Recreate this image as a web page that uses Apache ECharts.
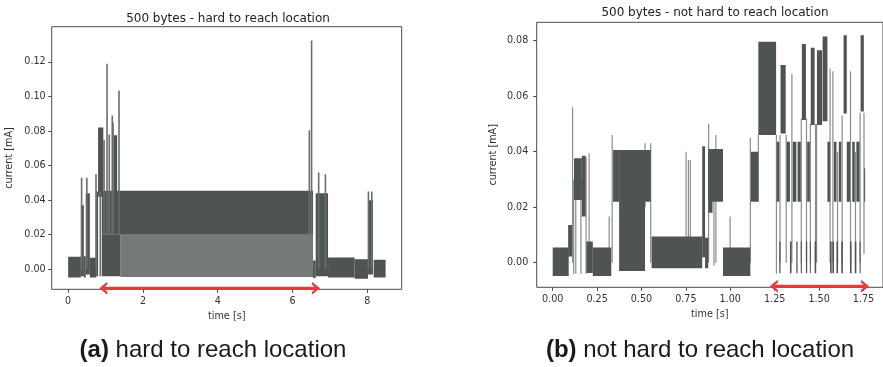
<!DOCTYPE html>
<html><head><meta charset="utf-8">
<script src="https://cdn.jsdelivr.net/npm/echarts@6/dist/echarts.min.js"></script>
<style>html,body{margin:0;padding:0;background:#fff}#c{width:883px;height:367px}</style>
</head><body><div id="c"></div>
<script>
// ---------- text ----------
const leftTitle = '500 bytes - hard to reach location';
const rightTitle = '500 bytes - not hard to reach location';
const xName = 'time [s]';
const yName = 'current [mA]';
const leftCaptionTag = '(a)';
const leftCaption = 'hard to reach location';
const rightCaptionTag = '(b)';
const rightCaption = 'not hard to reach location';

// ---------- ticks ----------
const leftXTicks = [0, 2, 4, 6, 8];
const leftYTicks = [0, 0.02, 0.04, 0.06, 0.08, 0.10, 0.12];
const rightXTicks = [0, 0.25, 0.5, 0.75, 1.0, 1.25, 1.5, 1.75];
const rightYTicks = [0, 0.02, 0.04, 0.06, 0.08];

// ---------- data: dense blocks [tStart, tEnd, low, high] ----------
const leftBlocks = [
  [0.00, 0.34, -0.0048, 0.0073],
  [0.34, 0.42, -0.0040, 0.0370],
  [0.42, 0.47, -0.0048, 0.0075],
  [0.47, 0.58, -0.0030, 0.0440],
  [0.58, 0.75, -0.0048, 0.0066],
  [0.75, 0.80, -0.0040, 0.0450],
  [0.80, 0.94, 0.0420, 0.0820],
  [0.90, 6.55, 0.0200, 0.0455],
  [0.90, 1.40, -0.0040, 0.0200],
  [1.22, 1.31, 0.0450, 0.0775],
  [6.55, 6.62, -0.0050, 0.0050],
  [6.62, 6.95, -0.0040, 0.0440],
  [6.95, 7.66, -0.0048, 0.0068],
  [7.66, 8.02, -0.0055, 0.0058],
  [8.02, 8.15, -0.0030, 0.0400],
  [8.17, 8.49, -0.0048, 0.0055]
];
// lighter sparse region under the main band
const leftLightBlocks = [
  [1.40, 6.55, -0.0045, 0.0200]
];
// thin spikes [t, low, high]
const leftSpikes = [
  [0.36, 0.000, 0.053], [0.50, 0.000, 0.053], [0.745, 0.000, 0.055],
  [0.86, -0.004, 0.045], [0.96, 0.020, 0.075], [1.04, 0.020, 0.119],
  [1.10, 0.020, 0.078], [1.18, 0.020, 0.089], [1.20, 0.020, 0.085],
  [1.36, 0.020, 0.1035], [6.45, 0.020, 0.0805], [6.51, 0.020, 0.1324],
  [6.70, 0.000, 0.056], [6.88, 0.000, 0.055], [8.03, 0.000, 0.045],
  [8.12, 0.000, 0.045]
];

const rightBlocks = [
  [0.000, 0.090, -0.0048, 0.0055],
  [0.087, 0.109, 0.0022, 0.0136],
  [0.120, 0.164, 0.0226, 0.0376],
  [0.164, 0.186, 0.0166, 0.0385],
  [0.190, 0.226, -0.0037, 0.0076],
  [0.226, 0.330, -0.0048, 0.0055],
  [0.340, 0.374, 0.0220, 0.0406],
  [0.374, 0.520, -0.0030, 0.0406],
  [0.520, 0.552, 0.0220, 0.0406],
  [0.557, 0.842, -0.0020, 0.0094],
  [0.842, 0.858, 0.0020, 0.0420],
  [0.858, 0.876, -0.0020, 0.0090],
  [0.876, 0.959, 0.0220, 0.0410],
  [0.876, 0.900, 0.0180, 0.0400],
  [0.959, 1.113, -0.0048, 0.0055],
  [1.116, 1.158, 0.0220, 0.0400],
  [1.158, 1.258, 0.0460, 0.0796],
  // high level pulses
  [1.283, 1.312, 0.0466, 0.0712],
  [1.403, 1.426, 0.0514, 0.0788],
  [1.453, 1.475, 0.0496, 0.0775],
  [1.488, 1.517, 0.0496, 0.0766],
  [1.520, 1.547, 0.0510, 0.0815],
  [1.638, 1.656, 0.0538, 0.0820],
  [1.734, 1.752, 0.0545, 0.0820],
  // mid level pulses
  [1.262, 1.276, 0.0220, 0.0436],
  [1.3175, 1.336, 0.0220, 0.0436],
  [1.352, 1.372, 0.0220, 0.0436],
  [1.379, 1.397, 0.0220, 0.0436],
  [1.433, 1.448, 0.0220, 0.0436],
  [1.547, 1.562, 0.0220, 0.0436],
  [1.584, 1.598, 0.0220, 0.0436],
  [1.611, 1.625, 0.0220, 0.0436],
  [1.656, 1.674, 0.0220, 0.0436],
  [1.687, 1.701, 0.0220, 0.0436],
  [1.710, 1.728, 0.0220, 0.0436],
  [1.754, 1.759, 0.0220, 0.0340],
  // low dips
  [1.276, 1.283, -0.0038, 0.0076],
  [1.336, 1.345, -0.0038, 0.0076],
  [1.372, 1.379, -0.0038, 0.0076],
  [1.397, 1.403, -0.0038, 0.0076],
  [1.426, 1.433, -0.0038, 0.0076],
  [1.448, 1.453, -0.0038, 0.0076],
  [1.475, 1.484, -0.0038, 0.0076],
  [1.562, 1.571, -0.0038, 0.0076],
  [1.575, 1.584, -0.0038, 0.0076],
  [1.598, 1.607, -0.0038, 0.0076],
  [1.625, 1.634, -0.0038, 0.0076],
  [1.674, 1.683, -0.0038, 0.0076],
  [1.701, 1.710, -0.0038, 0.0076],
  [1.728, 1.734, -0.0038, 0.0076]
];
const rightSpikes = [
  [0.112, 0.000, 0.056], [0.118, -0.004, 0.030], [0.130, -0.004, 0.030],
  [0.159, -0.004, 0.030], [0.188, -0.004, 0.038], [0.205, 0.000, 0.0394],
  [0.318, 0.000, 0.0166], [0.335, 0.000, 0.046], [0.520, 0.020, 0.043],
  [0.552, 0.000, 0.043], [0.751, 0.000, 0.040], [0.764, 0.000, 0.037],
  [0.775, 0.000, 0.037], [0.878, 0.000, 0.050], [0.908, -0.001, 0.030],
  [0.919, 0.000, 0.046], [0.999, 0.000, 0.0166], [1.113, 0.000, 0.045],
  [1.158, 0.022, 0.046], [1.260, -0.004, 0.046], [1.280, 0.000, 0.046],
  [1.315, 0.000, 0.046], [1.347, 0.000, 0.068], [1.400, 0.000, 0.052],
  [1.429, 0.000, 0.052], [1.451, 0.000, 0.050], [1.480, 0.000, 0.050],
  [1.486, 0.000, 0.050], [1.562, 0.000, 0.070], [1.578, 0.000, 0.069],
  [1.604, 0.000, 0.040], [1.630, 0.000, 0.053], [1.677, 0.000, 0.069],
  [1.705, 0.000, 0.040], [1.731, 0.000, 0.054], [1.753, 0.003, 0.054]
];

// red double arrows: [tStart, tEnd] at current level
const leftArrowT = [0.94, 6.63];
const leftArrowY = -0.0110;
const rightArrowT = [1.245, 1.759];
const rightArrowY = -0.0085;

// ---------- chart ----------
const DARK = '#4f5353';
const LIGHT = '#767979';
const SPIKE = '#6a6d6d';
const RED = '#e53a3a';
const AXIS = '#4a4a4a';
const TXT = '#333';
const FONT = 'DejaVu Sans';

function blockItem(color) {
  return function (params, api) {
    const p0 = api.coord([api.value(0), api.value(3)]);
    const p1 = api.coord([api.value(1), api.value(2)]);
    return {
      type: 'rect',
      shape: { x: p0[0], y: p0[1], width: Math.max(p1[0] - p0[0], 1), height: p1[1] - p0[1] },
      style: { fill: color }
    };
  };
}
function spikeItem(color, w) {
  return function (params, api) {
    const a = api.coord([api.value(0), api.value(1)]);
    const b = api.coord([api.value(0), api.value(2)]);
    return {
      type: 'line',
      shape: { x1: a[0], y1: a[1], x2: b[0], y2: b[1] },
      style: { stroke: color, lineWidth: w }
    };
  };
}
function customSeries(idx, data, item, encode) {
  return { type: 'custom', xAxisIndex: idx, yAxisIndex: idx, data: data, renderItem: item,
    encode: encode, silent: true, animation: false, clip: true };
}
const CHEVRON = 'path://M0,10 L10,0 L20,10 L15.5,10 L10,4.5 L4.5,10 Z';
function arrowSeries(idx, ts, y) {
  return {
    type: 'line', xAxisIndex: idx, yAxisIndex: idx, clip: false, z: 10, silent: true, animation: false,
    data: [{ value: [ts[0], y], symbolRotate: 90 }, { value: [ts[1], y], symbolRotate: -90 }],
    symbol: CHEVRON, symbolSize: [13, 8], showSymbol: true,
    lineStyle: { color: RED, width: 3 }, itemStyle: { color: RED }
  };
}
function xAxis(idx, min, max, ticks, fmt, nameGap) {
  return {
    type: 'value', gridIndex: idx, min: min, max: max,
    name: xName, nameLocation: 'middle', nameGap: nameGap,
    nameTextStyle: { fontFamily: FONT, fontSize: 9.7, color: TXT },
    axisLine: { show: false, onZero: false },
    axisTick: { show: true, customValues: ticks, length: 3.5, lineStyle: { color: AXIS } },
    axisLabel: { customValues: ticks, formatter: fmt, margin: 7, fontFamily: FONT, fontSize: 9.6, color: TXT },
    splitLine: { show: false }
  };
}
function yAxis(idx, min, max, ticks, margin, nameGap) {
  return {
    type: 'value', gridIndex: idx, min: min, max: max,
    name: yName, nameLocation: 'middle', nameGap: nameGap, nameRotate: 90,
    nameTextStyle: { fontFamily: FONT, fontSize: 9.7, color: TXT },
    axisLine: { show: false, onZero: false },
    axisTick: { show: true, customValues: ticks, length: 3.5, lineStyle: { color: AXIS } },
    axisLabel: { customValues: ticks, formatter: v => v.toFixed(2), margin: margin, fontFamily: FONT, fontSize: 9.6, color: TXT },
    splitLine: { show: false }
  };
}

const chart = echarts.init(document.getElementById('c'), null, { renderer: 'canvas' });
chart.setOption({
  backgroundColor: '#fff',
  animation: false,
  grid: [
    { left: 51.7, top: 26.7, width: 350, height: 262.6, show: true, borderColor: AXIS, borderWidth: 1, backgroundColor: 'transparent' },
    { left: 536.7, top: 22.3, width: 359.2, height: 265, show: true, borderColor: AXIS, borderWidth: 1, backgroundColor: 'transparent' }
  ],
  xAxis: [
    xAxis(0, -0.44, 8.92, leftXTicks, v => String(v), 20),
    xAxis(1, -0.0901, 1.86, rightXTicks, v => v.toFixed(2), 21)
  ],
  yAxis: [
    yAxis(0, -0.0116, 0.1404, leftYTicks, 6, 37),
    yAxis(1, -0.00887, 0.08663, rightYTicks, 8.4, 38.5)
  ],
  series: [
    customSeries(0, leftLightBlocks, blockItem(LIGHT), { x: [0, 1], y: [2, 3] }),
    customSeries(0, leftBlocks, blockItem(DARK), { x: [0, 1], y: [2, 3] }),
    customSeries(0, leftSpikes, spikeItem(SPIKE, 1.6), { x: 0, y: [1, 2] }),
    customSeries(1, rightSpikes, spikeItem('#8a8d8d', 1.2), { x: 0, y: [1, 2] }),
    customSeries(1, rightBlocks, blockItem(DARK), { x: [0, 1], y: [2, 3] }),
    arrowSeries(0, leftArrowT, leftArrowY),
    arrowSeries(1, rightArrowT, rightArrowY)
  ],
  graphic: [
    { type: 'text', x: 228, y: 18.5, style: { text: leftTitle, textAlign: 'center', textVerticalAlign: 'middle', fontFamily: FONT, fontSize: 12, fill: '#222' } },
    { type: 'text', x: 715, y: 12.5, style: { text: rightTitle, textAlign: 'center', textVerticalAlign: 'middle', fontFamily: FONT, fontSize: 12, fill: '#222' } },
    { type: 'text', x: 213, y: 350, style: { text: '{b|' + leftCaptionTag + '} ' + leftCaption, textAlign: 'center', textVerticalAlign: 'middle',
      fontFamily: 'Liberation Sans', fontSize: 24, fill: '#1a1a1a', rich: { b: { fontWeight: 'bold', fontFamily: 'Liberation Sans', fontSize: 24, fill: '#1a1a1a' } } } },
    { type: 'text', x: 700, y: 350, style: { text: '{b|' + rightCaptionTag + '} ' + rightCaption, textAlign: 'center', textVerticalAlign: 'middle',
      fontFamily: 'Liberation Sans', fontSize: 24, fill: '#1a1a1a', rich: { b: { fontWeight: 'bold', fontFamily: 'Liberation Sans', fontSize: 24, fill: '#1a1a1a' } } } }
  ]
});
</script>
</body></html>
